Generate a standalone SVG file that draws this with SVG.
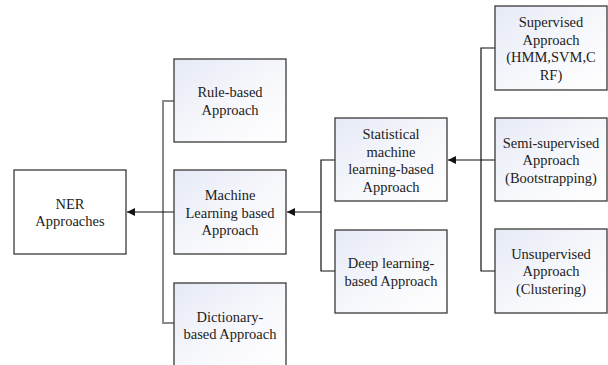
<svg xmlns="http://www.w3.org/2000/svg" width="608" height="365" viewBox="0 0 608 365">
<defs>
<linearGradient id="g" x1="0" y1="0" x2="1" y2="1">
<stop offset="0" stop-color="#e6eaf6"/>
<stop offset="0.55" stop-color="#f7f8fc"/>
<stop offset="1" stop-color="#ffffff"/>
</linearGradient>
<marker id="ah" viewBox="0 0 8 8" refX="8" refY="4" markerWidth="8" markerHeight="8" markerUnits="userSpaceOnUse" orient="auto">
<path d="M0,0 L8,4 L0,8 Z" fill="#111"/>
</marker>
<style>
.box{fill:url(#g);stroke:#3a3a3a;stroke-width:1.3}
.plain{fill:#fff;stroke:#3a3a3a;stroke-width:1.3}
.t{font-family:'Liberation Serif','Times New Roman',serif;font-size:14.5px;fill:#222;text-anchor:middle;dominant-baseline:central}
.ln{fill:none;stroke:#111;stroke-width:1.2}
.gr{fill:none;stroke:#8a8a8a;stroke-width:2}
</style>
</defs>
<rect width="608" height="365" fill="#fff"/>
<g id="connectors">
<path class="gr" d="M174,101 H163 V323 H174"/>
<path class="ln" d="M174,212 H127" marker-end="url(#ah)"/>
<path class="ln" d="M335,160 H321 V271 H335"/>
<path class="ln" d="M321,212 H287" marker-end="url(#ah)"/>
<path class="ln" d="M495,48 H481 V271 H495"/>
<path class="ln" d="M495,160 H448" marker-end="url(#ah)"/>
</g>
<g class="t" font-family="Liberation Serif, serif">
<g id="ner">
<rect class="plain" x="14" y="170" width="112" height="84"/>
<text x="70" y="203.5">NER</text>
<text x="70" y="221">Approaches</text>
</g>
<g id="rule">
<rect class="box" x="174" y="59" width="112" height="83"/>
<text x="230" y="92">Rule-based</text>
<text x="230" y="109.5">Approach</text>
</g>
<g id="ml">
<rect class="box" x="174" y="170" width="112" height="84"/>
<text x="230" y="195">Machine</text>
<text x="230" y="212.5">Learning based</text>
<text x="230" y="230">Approach</text>
</g>
<g id="dict">
<rect class="box" x="174" y="283" width="112" height="84"/>
<text x="230" y="316.5">Dictionary-</text>
<text x="230" y="334">based Approach</text>
</g>
<g id="stat">
<rect class="box" x="335" y="118" width="112" height="83"/>
<text x="391" y="134">Statistical</text>
<text x="391" y="151.5">machine</text>
<text x="391" y="169">learning-based</text>
<text x="391" y="186.5">Approach</text>
</g>
<g id="deep">
<rect class="box" x="335" y="230" width="112" height="83"/>
<text x="391" y="263">Deep learning-</text>
<text x="391" y="280.5">based Approach</text>
</g>
<g id="sup">
<rect class="box" x="495" y="6" width="112" height="84"/>
<text x="551" y="22">Supervised</text>
<text x="551" y="39.5">Approach</text>
<text x="551" y="57">(HMM,SVM,C</text>
<text x="551" y="74.5">RF)</text>
</g>
<g id="semi">
<rect class="box" x="495" y="118" width="112" height="83"/>
<text x="551" y="142.5">Semi-supervised</text>
<text x="551" y="160">Approach</text>
<text x="551" y="177.5">(Bootstrapping)</text>
</g>
<g id="unsup">
<rect class="box" x="495" y="229" width="112" height="84"/>
<text x="551" y="253.5">Unsupervised</text>
<text x="551" y="271">Approach</text>
<text x="551" y="288.5">(Clustering)</text>
</g>
</g>
</svg>
